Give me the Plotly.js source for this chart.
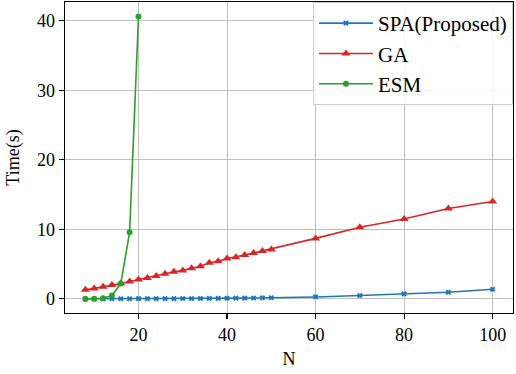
<!DOCTYPE html>
<html>
<head>
<meta charset="utf-8">
<script src="https://cdn.plot.ly/plotly-3.0.1.min.js"></script>
<style>html,body{margin:0;padding:0;background:#fff;}#chart{width:516px;height:374px;}</style>
</head>
<body>
<div id="chart"></div>
<script>
const nMain = [8,10,12,14,16,18,20,22,24,26,28,30,32,34,36,38,40,42,44,46,48,50,60,70,80,90,100];
const spaTime = [0.01,0.01,0.01,0.02,0.02,0.02,0.03,0.03,0.03,0.04,0.04,0.05,0.05,0.06,0.07,0.08,0.09,0.10,0.11,0.12,0.14,0.16,0.28,0.48,0.72,0.95,1.38];
const gaTime = [1.3,1.5,1.75,2.0,2.2,2.5,2.8,3.0,3.3,3.6,3.9,4.1,4.4,4.7,5.2,5.4,5.8,6.0,6.3,6.6,6.9,7.1,8.7,10.3,11.5,13.0,14.0];
const nEsm = [8,10,12,14,16,18,20];
const esmTime = [0.0,0.02,0.1,0.48,2.2,9.6,40.6];
const xTicks = [20,40,60,80,100];
const yTicks = [0,10,20,30,40];

const font = "Liberation Serif, Times New Roman, serif";
const traces = [
  {x:nMain, y:spaTime, name:'SPA(Proposed)', legendgroup:'a', mode:'lines+markers',
   line:{color:'#1f77b4', width:1.6}, marker:{symbol:'x', size:5, color:'#1f77b4'}},
  {x:nMain, y:gaTime, name:'GA', legendgroup:'b', mode:'lines+markers',
   line:{color:'#d62728', width:1.6}, marker:{symbol:'triangle-up', size:8, color:'#d62728'}},
  {x:nEsm, y:esmTime, name:'ESM', legendgroup:'c', mode:'lines+markers',
   line:{color:'#2ca02c', width:1.6}, marker:{symbol:'circle', size:6, color:'#2ca02c'}}
];
const axisCommon = {
  showline:true, mirror:true, linecolor:'#000', linewidth:1.3,
  ticks:'outside', ticklen:5, tickwidth:1.1, tickcolor:'#000',
  showgrid:true, gridcolor:'#c0c0c0', gridwidth:1, zeroline:false,
  tickfont:{family:font, size:18, color:'#000'}
};
const layout = {
  width:516, height:374,
  margin:{l:65, r:3, t:2, b:61},
  paper_bgcolor:'#fff', plot_bgcolor:'#fff',
  font:{family:font, color:'#000'},
  xaxis:Object.assign({}, axisCommon, {
    range:[3.4,104.6], tickvals:xTicks,
    title:{text:'N', font:{family:font, size:18}, standoff:8}
  }),
  yaxis:Object.assign({}, axisCommon, {
    range:[-2.03,42.7], tickvals:yTicks,
    title:{text:'Time(s)', font:{family:font, size:18}, standoff:12}
  }),
  legend:{x:1, y:1, xanchor:'right', yanchor:'top',
    traceorder:'grouped', tracegroupgap:0, itemwidth:54,
    bgcolor:'rgba(255,255,255,0.85)', bordercolor:'#cccccc', borderwidth:1,
    font:{family:font, size:21, color:'#000'}},
  showlegend:true
};
Plotly.newPlot('chart', traces, layout, {displayModeBar:false, staticPlot:true});
</script>
</body>
</html>
